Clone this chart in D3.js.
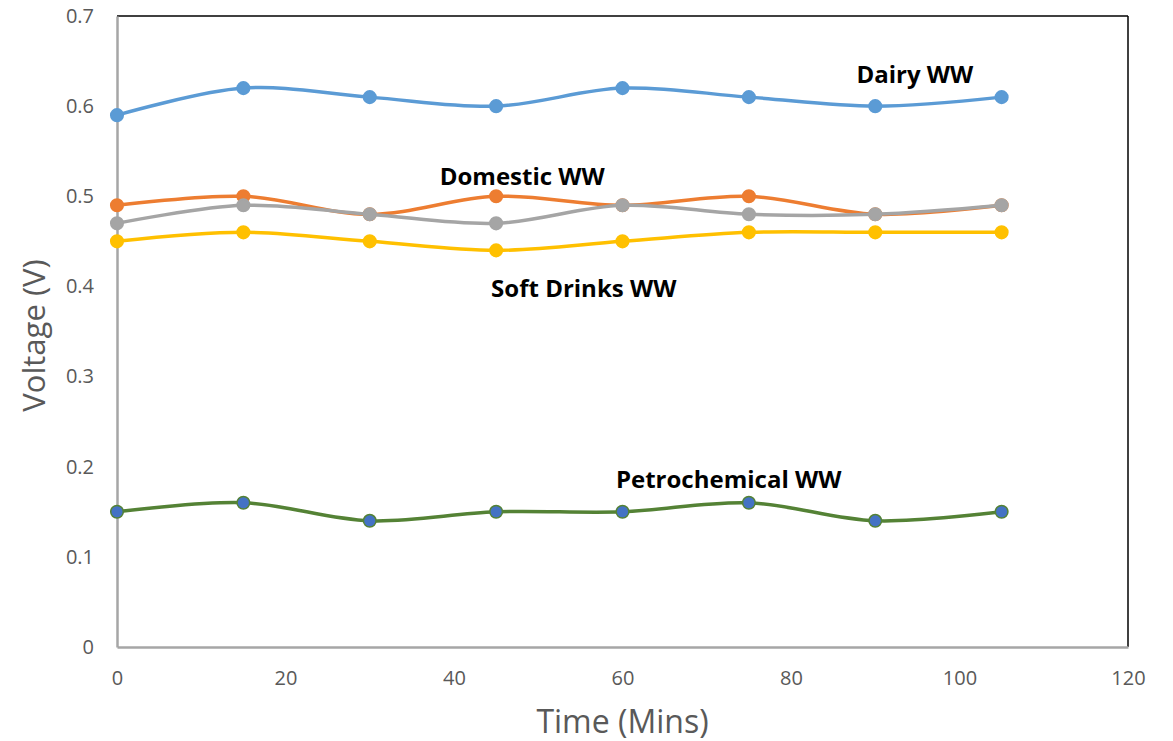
<!DOCTYPE html>
<html>
<head>
<meta charset="utf-8">
<script src="https://cdn.jsdelivr.net/npm/d3@7"></script>
<style>
  html, body { margin: 0; padding: 0; background: #fff; }
  svg { display: block; }
  text { font-family: "Open Sans", "Noto Sans", sans-serif; }
</style>
</head>
<body>
<svg id="chart" width="1173" height="741"></svg>
<script>
// Sampling times (minutes)
const times = [0, 15, 30, 45, 60, 75, 90, 105];

// Voltage readings (V) for each wastewater source
const dairy        = [0.59, 0.62, 0.61, 0.60, 0.62, 0.61, 0.60, 0.61];
const domestic     = [0.49, 0.50, 0.48, 0.50, 0.49, 0.50, 0.48, 0.49];
const greySeries   = [0.47, 0.49, 0.48, 0.47, 0.49, 0.48, 0.48, 0.49];
const softDrinks   = [0.45, 0.46, 0.45, 0.44, 0.45, 0.46, 0.46, 0.46];
const petrochem    = [0.15, 0.16, 0.14, 0.15, 0.15, 0.16, 0.14, 0.15];

// Axis ticks
const xTicks = [0, 20, 40, 60, 80, 100, 120];
const yTicks = [0, 0.1, 0.2, 0.3, 0.4, 0.5, 0.6, 0.7];

// Series drawn back to front, with their styling
const series = [
  { name: "Dairy WW",        values: dairy,      line: "#5B9BD5", fill: "#5B9BD5", stroke: "#5B9BD5" },
  { name: "Domestic WW",     values: domestic,   line: "#ED7D31", fill: "#ED7D31", stroke: "#ED7D31" },
  { name: "",                values: greySeries, line: "#A5A5A5", fill: "#A5A5A5", stroke: "#A5A5A5" },
  { name: "Soft Drinks WW",  values: softDrinks, line: "#FFC000", fill: "#FFC000", stroke: "#FFC000" },
  { name: "Petrochemical WW",values: petrochem,  line: "#548235", fill: "#4472C4", stroke: "#548235" }
];

// Label anchor points (data coordinates, text baseline centre)
const labels = [
  { text: "Dairy WW",         x: 94.7, y: 0.6257 },
  { text: "Domestic WW",      x: 48.1, y: 0.5125 },
  { text: "Soft Drinks WW",   x: 55.4, y: 0.3883 },
  { text: "Petrochemical WW", x: 72.6, y: 0.1764 }
];

const svg = d3.select("#chart");
const plotLeft = 117, plotRight = 1128, plotTop = 16, plotBottom = 647;

const x = d3.scaleLinear().domain([0, 120]).range([plotLeft, plotRight]);
const y = d3.scaleLinear().domain([0, 0.7]).range([plotBottom, plotTop]);

// Frame: top and right borders
svg.append("line").attr("x1", plotLeft).attr("x2", plotRight).attr("y1", plotTop).attr("y2", plotTop)
  .attr("stroke", "#000").attr("stroke-width", 1.5);
svg.append("line").attr("x1", plotRight).attr("x2", plotRight).attr("y1", plotTop).attr("y2", plotBottom)
  .attr("stroke", "#000").attr("stroke-width", 1.5);

// Axes
const xAxis = svg.append("g").attr("transform", `translate(0,${plotBottom})`)
  .call(d3.axisBottom(x).tickValues(xTicks).tickSize(0).tickPadding(24).tickFormat(d3.format("d")));
const yAxis = svg.append("g").attr("transform", `translate(${plotLeft},0)`)
  .call(d3.axisLeft(y).tickValues(yTicks).tickSize(0).tickPadding(23)
    .tickFormat(d => d === 0 ? "0" : d3.format(".1f")(d)));

[xAxis, yAxis].forEach(g => {
  g.select(".domain").attr("stroke", "#A6A6A6").attr("stroke-width", 2.5);
  g.selectAll("text").attr("fill", "#595959").style("font-size", "20px")
    .style("font-family", "'Open Sans', sans-serif");
});

// Axis titles
svg.append("text").attr("x", (plotLeft + plotRight) / 2).attr("y", 733)
  .attr("text-anchor", "middle").attr("fill", "#595959")
  .style("font-size", "32px").text("Time (Mins)");
svg.append("text")
  .attr("transform", `translate(45,${(plotTop + plotBottom) / 2 + 4}) rotate(-90)`)
  .attr("text-anchor", "middle").attr("fill", "#595959")
  .style("font-size", "31px").text("Voltage (V)");

// Smoothed lines and markers
const line = d3.line()
  .x((d, i) => x(times[i]))
  .y(d => y(d))
  .curve(d3.curveCardinal.tension(0));

series.forEach(s => {
  const g = svg.append("g");
  g.append("path").datum(s.values)
    .attr("d", line).attr("fill", "none")
    .attr("stroke", s.line).attr("stroke-width", 3.5)
    .attr("stroke-linejoin", "round").attr("stroke-linecap", "round");
  g.selectAll("circle").data(s.values).join("circle")
    .attr("cx", (d, i) => x(times[i]))
    .attr("cy", d => y(d))
    .attr("r", 6.3)
    .attr("fill", s.fill)
    .attr("stroke", s.stroke).attr("stroke-width", 1.5);
});

// Series labels
svg.selectAll(".series-label").data(labels).join("text")
  .attr("class", "series-label")
  .attr("x", d => x(d.x)).attr("y", d => y(d.y))
  .attr("text-anchor", "middle")
  .attr("fill", "#000").style("font-size", "24px").style("font-weight", "bold")
  .text(d => d.text);
</script>
</body>
</html>
